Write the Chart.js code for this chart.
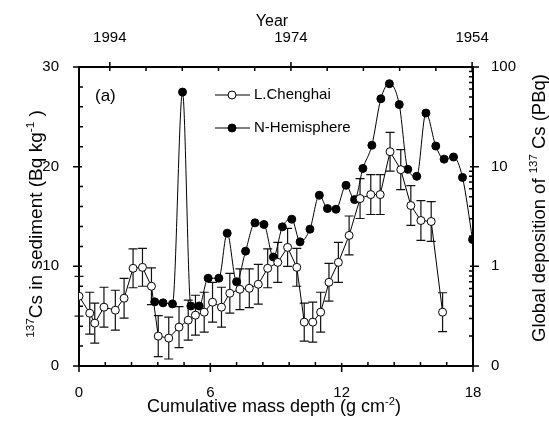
<!DOCTYPE html>
<html>
<head>
<meta charset="utf-8">
<script src="https://cdn.jsdelivr.net/npm/chart.js@4.4.1/dist/chart.umd.min.js"></script>
<style>
  html, body { margin: 0; padding: 0; background: #fff; }
</style>
</head>
<body>
<canvas id="chart" width="549" height="424"></canvas>
<script>
// ── Data ─────────────────────────────────────────────────────────────────────
// L. Chenghai core: 137Cs activity (Bq/kg) vs cumulative mass depth (g/cm2)
const chDepth = [0, 0.49, 0.72, 1.14, 1.66, 2.06, 2.47, 2.90, 3.31, 3.62,
                 4.10, 4.57, 4.99, 5.32, 5.72, 6.10, 6.51, 6.89, 7.35, 7.78,
                 8.19, 8.62, 9.08, 9.53, 9.95, 10.29, 10.68, 11.04, 11.42, 11.85,
                 12.34, 12.84, 13.33, 13.76, 14.21, 14.70, 15.16, 15.62, 16.09, 16.61];
const chCs    = [7.0, 5.3, 4.3, 5.9, 5.6, 6.8, 9.8, 9.9, 8.0, 3.0,
                 2.8, 3.9, 4.6, 5.1, 5.4, 6.4, 5.9, 7.3, 7.7, 7.8,
                 8.2, 9.8, 10.4, 11.9, 9.9, 4.4, 4.4, 5.4, 8.4, 10.4,
                 13.1, 16.8, 17.2, 17.2, 21.5, 19.7, 16.1, 14.6, 14.5, 5.4];
const chErr   = [2.0, 2.1, 2.0, 2.0, 2.0, 2.0, 1.95, 1.9, 1.85, 2.05,
                 2.1, 2.05, 2.0, 2.0, 2.0, 2.0, 2.0, 2.0, 2.05, 1.95,
                 2.0, 1.95, 2.0, 1.9, 1.9, 1.9, 2.0, 2.0, 1.9, 2.0,
                 1.95, 2.0, 2.0, 2.0, 1.95, 2.0, 2.0, 2.0, 2.0, 1.95];

// Northern hemisphere global deposition of 137Cs (PBq)
const nhDepth = [3.46, 3.84, 4.27, 4.73, 5.11, 5.49, 5.90, 6.39, 6.77, 7.20,
                 7.61, 8.04, 8.45, 8.88, 9.29, 9.72, 10.10, 10.55, 10.98, 11.35,
                 11.74, 12.20, 12.59, 12.97, 13.38, 13.79, 14.18, 14.63, 15.02, 15.43,
                 15.85, 16.30, 16.68, 17.11, 17.52, 17.98];
const nhDep   = [0.44, 0.43, 0.42, 56, 0.40, 0.40, 0.76, 0.76, 2.15, 0.70,
                 1.42, 2.73, 2.63, 1.24, 2.49, 2.97, 1.76, 2.36, 5.17, 3.80,
                 3.74, 6.5, 4.67, 9.6, 16.4, 48, 68, 42, 9.4, 8.0,
                 34.5, 16.1, 11.9, 12.5, 7.8, 1.86];

// axis ticks (labelled ones are the major ticks)
const depthTicks  = [0, 1.2, 2.4, 3.6, 4.8, 6, 7.2, 8.4, 9.6, 10.8, 12, 13.2, 14.4, 15.6, 16.8, 18];
const depthLabels = [0, 6, 12, 18];
const csTicks     = [0, 2, 4, 6, 8, 10, 12, 14, 16, 18, 20, 22, 24, 26, 28, 30];
const csLabels    = [0, 10, 20, 30];
const yearTicks   = [1954, 1958, 1962, 1966, 1970, 1974, 1978, 1982, 1986, 1990, 1994];
const yearLabels  = [1954, 1974, 1994];
const depTicks    = [0.1, 0.2, 0.3, 0.4, 0.5, 0.6, 0.7, 0.8, 0.9,
                     1, 2, 3, 4, 5, 6, 7, 8, 9,
                     10, 20, 30, 40, 50, 60, 70, 80, 90, 100];
const depLabels   = { 0.1: '0', 1: '1', 10: '10', 100: '100' };

// ── Style ────────────────────────────────────────────────────────────────────
const FAM = '"Liberation Sans", Arial, Helvetica, sans-serif';
Chart.defaults.font.family = FAM;
Chart.defaults.color = '#000';

const isMajor = (id, v) => {
  if (id === 'x')  return depthLabels.some(l => Math.abs(l - v) < 1e-6);
  if (id === 'yL') return csLabels.includes(v);
  if (id === 'x2') return yearLabels.includes(v);
  return depLabels[v] !== undefined;
};

function setTicks(list) {
  return s => { s.ticks = list.map(v => ({ value: v })); };
}

// text with superscript runs, centred on (cx, cy)
function drawRich(ctx, parts, cx, cy, rot, size) {
  ctx.save();
  ctx.translate(cx, cy);
  ctx.rotate(rot);
  const sup = size * 0.62;
  let total = 0;
  parts.forEach(p => {
    ctx.font = `${p.sup ? sup : size}px ${FAM}`;
    p.w = ctx.measureText(p.t).width;
    total += p.w;
  });
  let x = -total / 2;
  ctx.fillStyle = '#000';
  ctx.textBaseline = 'alphabetic';
  ctx.textAlign = 'left';
  parts.forEach(p => {
    ctx.font = `${p.sup ? sup : size}px ${FAM}`;
    ctx.fillText(p.t, x, size * 0.36 - (p.sup ? size * 0.42 : 0));
    x += p.w;
  });
  ctx.restore();
}

// error bars under the L.Chenghai markers
const errorBars = {
  id: 'errorBars',
  beforeDatasetsDraw(chart) {
    const { ctx } = chart;
    const xs = chart.scales.x, ys = chart.scales.yL;
    ctx.save();
    ctx.strokeStyle = '#111';
    ctx.lineWidth = 1.2;
    chDepth.forEach((d, i) => {
      const px  = xs.getPixelForValue(d);
      const top = ys.getPixelForValue(chCs[i] + chErr[i]);
      const bot = ys.getPixelForValue(Math.max(0, chCs[i] - chErr[i]));
      ctx.beginPath();
      ctx.moveTo(px, top); ctx.lineTo(px, bot);
      ctx.moveTo(px - 4.5, top); ctx.lineTo(px + 4.5, top);
      ctx.moveTo(px - 4.5, bot); ctx.lineTo(px + 4.5, bot);
      ctx.stroke();
    });
    ctx.restore();
  }
};

// tick marks: major cross the axis, minor point inward
const tickMarks = {
  id: 'tickMarks',
  afterDraw(chart) {
    const { ctx, chartArea: a } = chart;
    ctx.save();
    ctx.strokeStyle = '#000';
    ctx.lineWidth = 1.5;
    ctx.beginPath();
    ['x', 'x2', 'yL', 'yR'].forEach(id => {
      const s = chart.scales[id];
      s.ticks.forEach(t => {
        const p = s.getPixelForValue(t.value);
        const maj = isMajor(id, t.value);
        if (id === 'x') {
          if (maj) { ctx.moveTo(p, a.bottom - 3); ctx.lineTo(p, a.bottom + 6); }
          else     { ctx.moveTo(p, a.bottom);     ctx.lineTo(p, a.bottom - 4); }
        } else if (id === 'x2') {
          if (maj) { ctx.moveTo(p, a.top + 4); ctx.lineTo(p, a.top - 5); }
          else     { ctx.moveTo(p, a.top);     ctx.lineTo(p, a.top + 4); }
        } else if (id === 'yL') {
          if (maj) { ctx.moveTo(a.left + 3, p); ctx.lineTo(a.left - 6, p); }
          else     { ctx.moveTo(a.left, p);     ctx.lineTo(a.left + 4, p); }
        } else {
          if (maj) { ctx.moveTo(a.right - 3, p); ctx.lineTo(a.right + 6, p); }
          else     { ctx.moveTo(a.right, p);     ctx.lineTo(a.right - 4, p); }
        }
      });
    });
    ctx.stroke();
    ctx.restore();
  }
};

// axis titles, panel letter and legend
const annotations = {
  id: 'annotations',
  afterDraw(chart) {
    const { ctx } = chart;
    drawRich(ctx, [{ t: 'Year' }], 272, 20, 0, 16);
    drawRich(ctx, [{ t: 'Cumulative mass depth (g cm' }, { t: '-2', sup: true }, { t: ')' }], 274, 406, 0, 18);
    drawRich(ctx, [{ t: '137', sup: true }, { t: 'Cs in sediment (Bq kg' }, { t: '-1', sup: true }, { t: ' )' }],
             35, 224, -Math.PI / 2, 19);
    drawRich(ctx, [{ t: 'Global deposition of ' }, { t: '137', sup: true }, { t: ' Cs (PBq)' }],
             538, 208, -Math.PI / 2, 18.5);

    ctx.save();
    ctx.fillStyle = '#000';
    ctx.font = `17px ${FAM}`;
    ctx.textBaseline = 'middle';
    ctx.fillText('(a)', 95, 96);

    const rows = [
      { label: 'L.Chenghai',   y: 95,  fill: '#fff', r: 4 },
      { label: 'N-Hemisphere', y: 128, fill: '#000', r: 4 },
    ];
    ctx.font = `15px ${FAM}`;
    ctx.lineWidth = 1;
    ctx.strokeStyle = '#000';
    rows.forEach(r => {
      ctx.beginPath();
      ctx.moveTo(215, r.y); ctx.lineTo(250, r.y);
      ctx.stroke();
      ctx.beginPath();
      ctx.arc(232, r.y, r.r, 0, Math.PI * 2);
      ctx.fillStyle = r.fill;
      ctx.fill();
      ctx.stroke();
      ctx.fillStyle = '#000';
      ctx.fillText(r.label, 254, r.y);
    });
    ctx.restore();
  }
};

const tickFont = { size: 15, family: FAM };

new Chart(document.getElementById('chart'), {
  type: 'line',
  data: {
    datasets: [
      {
        label: 'L.Chenghai',
        data: chDepth.map((x, i) => ({ x, y: chCs[i] })),
        xAxisID: 'x', yAxisID: 'yL',
        borderColor: '#000', borderWidth: 1,
        pointRadius: 4, pointBackgroundColor: '#fff',
        pointBorderColor: '#000', pointBorderWidth: 1,
        tension: 0,
      },
      {
        label: 'N-Hemisphere',
        data: nhDepth.map((x, i) => ({ x, y: nhDep[i] })),
        xAxisID: 'x', yAxisID: 'yR',
        borderColor: '#000', borderWidth: 1,
        pointRadius: 4, pointBackgroundColor: '#000',
        pointBorderColor: '#000', pointBorderWidth: 1,
        cubicInterpolationMode: 'monotone',
      },
    ]
  },
  options: {
    responsive: false,
    animation: false,
    layout: { padding: 0 },
    plugins: { legend: { display: false }, tooltip: { enabled: false } },
    scales: {
      x: {
        type: 'linear', position: 'bottom', min: 0, max: 18,
        afterBuildTicks: setTicks(depthTicks),
        afterFit: s => { s.height = 58; },
        grid: { display: false },
        border: { display: true, color: '#000', width: 2 },
        ticks: {
          autoSkip: false, maxRotation: 0, padding: 10, font: tickFont,
          callback: v => isMajor('x', v) ? String(Math.round(v)) : '',
        },
      },
      x2: {
        type: 'linear', position: 'top', reverse: true, min: 1953.9, max: 1997.4,
        afterBuildTicks: setTicks(yearTicks),
        afterFit: s => { s.height = 67; },
        grid: { display: false },
        border: { display: true, color: '#000', width: 2 },
        ticks: {
          autoSkip: false, maxRotation: 0, padding: 12, font: tickFont,
          callback: v => yearLabels.includes(v) ? String(v) : '',
        },
      },
      yL: {
        type: 'linear', position: 'left', min: 0, max: 30,
        afterBuildTicks: setTicks(csTicks),
        afterFit: s => { s.width = 79; },
        grid: { display: false },
        border: { display: true, color: '#000', width: 2 },
        ticks: {
          autoSkip: false, padding: 12, font: tickFont,
          callback: v => csLabels.includes(v) ? String(v) : '',
        },
      },
      yR: {
        type: 'logarithmic', position: 'right', min: 0.1, max: 100,
        afterBuildTicks: setTicks(depTicks),
        afterFit: s => { s.width = 76; },
        grid: { display: false },
        border: { display: true, color: '#000', width: 2 },
        ticks: {
          autoSkip: false, padding: 10, font: tickFont,
          callback: v => depLabels[v] !== undefined ? depLabels[v] : '',
        },
      },
    }
  },
  plugins: [errorBars, tickMarks, annotations]
});
</script>
</body>
</html>
